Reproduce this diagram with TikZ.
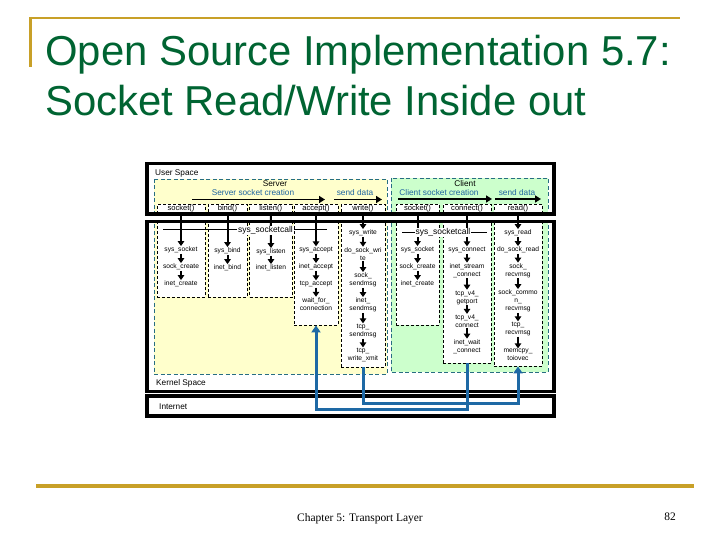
\documentclass[tikz,border=0pt]{standalone}
\usepackage{fontspec}
\setmainfont{Liberation Sans}
\newfontfamily\footfont{Liberation Serif}
\usetikzlibrary{arrows.meta}
\definecolor{titlegreen}{RGB}{0,100,50}
\definecolor{gold}{RGB}{200,160,40}
\definecolor{srvfill}{RGB}{255,255,204}
\definecolor{clifill}{RGB}{204,255,204}
\definecolor{regedge}{RGB}{40,110,130}
\definecolor{flowblue}{RGB}{30,100,160}
\definecolor{connblue}{RGB}{30,105,165}
\begin{document}
\begin{tikzpicture}[x=1bp,y=-1bp,
  title/.style={font=\fontsize{42}{50}\selectfont, text=titlegreen, inner sep=0, anchor=base west},
  fn/.style={font=\fontsize{6.7}{8}\selectfont, inner sep=0.6bp, align=center},
  lab/.style={font=\fontsize{7.6}{9}\selectfont, inner sep=0.3bp, anchor=base},
  hdr/.style={font=\fontsize{8.3}{9}\selectfont, inner sep=0},
  sctext/.style={font=\fontsize{8.5}{9}\selectfont, inner sep=1bp, fill=white},
  colbox/.style={draw=black, dash pattern=on 3bp off 2bp, line width=0.8bp, fill=white, inner sep=0, rectangle},
  region/.style={draw=regedge, dash pattern=on 4bp off 2.5bp, line width=0.8bp},
  thickbox/.style={draw=black, line width=3.3bp},
  arr/.style={-{Triangle[width=6.5bp,length=5bp]}, line width=2bp},
  flow/.style={-{Triangle[width=7bp,length=6bp]}, line width=1.8bp},
  bconn/.style={draw=connblue, line width=3bp, -{Triangle[width=9bp,length=7bp]}},
  goldline/.style={draw=gold}
]
\useasboundingbox (0,0) rectangle (720,540);

% slide frame
\draw[goldline, line width=2.7bp] (29,18) -- (680,18);
\draw[goldline, line width=2.7bp] (30.5,17) -- (30.5,67);
\node[title] (t1) at (45,66) {Open Source Implementation 5.7:};
\node[title] (t2) at (45,116) {Socket Read/Write Inside out};
\draw[goldline, line width=3.3bp] (36,486) -- (694,486);
\node[font=\footfont\fontsize{11.5}{13}\selectfont, anchor=base, inner sep=0] (foot) at (360,521) {Chapter 5: Transport Layer};
\node[font=\footfont\fontsize{11.5}{13}\selectfont, anchor=base, inner sep=0] (pg) at (670,520) {82};

% regions
\path[region, fill=srvfill] (154,179) rectangle (387,374);
\path[region, fill=clifill] (391,178) rectangle (548,372);

% column boxes
\node[colbox, minimum width=48bp, minimum height=92.5bp]  (c1) at (181,250.75) {};
\node[colbox, minimum width=39bp, minimum height=92.5bp]  (c2) at (227.5,250.75) {};
\node[colbox, minimum width=42.5bp, minimum height=92.5bp] (c3) at (270.75,250.75) {};
\node[colbox, minimum width=44bp, minimum height=120.5bp] (c4) at (316,264.75) {};
\node[colbox, minimum width=44bp, minimum height=162.5bp] (c5) at (363,285.75) {};
\node[colbox, minimum width=43bp, minimum height=120.5bp] (c6) at (417.5,264.75) {};
\node[colbox, minimum width=48bp, minimum height=158.5bp] (c7) at (467,283.75) {};
\node[colbox, minimum width=48bp, minimum height=161.5bp] (c8) at (518,285.25) {};

% user/kernel/internet boxes
\fill[white] (147,214) rectangle (554,221.7);
\draw[thickbox] (147,163.5) rectangle (554,214);
\draw[thickbox] (147,221.7) rectangle (554,391.5);
\draw[thickbox] (147,396) rectangle (554,416);

\node[hdr, anchor=west] (us) at (155,173) {User Space};
\node[hdr, anchor=west] (ks) at (156,383) {Kernel Space};
\node[hdr, anchor=west] (inet) at (159,407) {Internet};

% headers
\node[hdr] (srvT) at (275,184) {Server};
\node[hdr, text=flowblue] (ssc) at (253,193) {Server socket creation};
\node[hdr, text=flowblue] (ssd) at (355,193) {send data};
\node[hdr] (cliT) at (465,184) {Client};
\node[hdr, text=flowblue] (csc) at (439,193) {Client socket creation};
\node[hdr, text=flowblue] (csd) at (517,193) {send data};
\coordinate (sa1) at (192,199.5); \coordinate (sa2) at (325,199.5);
\coordinate (sb1) at (334,199.5); \coordinate (sb2) at (382,199.5);
\coordinate (ca1) at (398,199); \coordinate (ca2) at (492,199);
\coordinate (cb1) at (495,199); \coordinate (cb2) at (541,199);
\draw[flow] (sa1) -- (sa2);
\draw[flow] (sb1) -- (sb2);
\draw[flow] (ca1) -- (ca2);
\draw[flow] (cb1) -- (cb2);

% call labels
\node[lab] (l1) at (181,210.3) {socket()};
\node[lab] (l2) at (227.5,210.3) {bind()};
\node[lab] (l3) at (270.75,210.3) {listen()};
\node[lab] (l4) at (316,210.3) {accept()};
\node[lab] (l5) at (363,210.3) {write()};
\node[lab] (l6) at (417.5,210.3) {socket()};
\node[lab] (l7) at (467,210.3) {connect()};
\node[lab] (l8) at (518,210.3) {read()};

% server kernel functions
\node[fn] (f11) at (181,250) {sys\_socket};
\node[fn] (f12) at (181,267) {sock\_create};
\node[fn] (f13) at (181,284) {inet\_create};
\node[fn] (f21) at (227.5,251) {sys\_bind};
\node[fn] (f22) at (227.5,268) {inet\_bind};
\node[fn] (f31) at (271,252) {sys\_listen};
\node[fn] (f32) at (271,268) {inet\_listen};
\node[fn] (f41) at (316,250) {sys\_accept};
\node[fn] (f42) at (316,267) {inet\_accept};
\node[fn] (f43) at (316,284) {tcp\_accept};
\node[fn] (f44) at (316,304) {wait\_for\_\\connection};
\node[fn] (f51) at (363,233) {sys\_write};
\node[fn] (f52) at (363,254) {do\_sock\_wri\\te};
\node[fn] (f53) at (363,280) {sock\_\\sendmsg};
\node[fn] (f54) at (363,305) {inet\_\\sendmsg};
\node[fn] (f55) at (363,331) {tcp\_\\sendmsg};
\node[fn] (f56) at (363,355) {tcp\_\\write\_xmit};
% client kernel functions
\node[fn] (g11) at (417.5,250) {sys\_socket};
\node[fn] (g12) at (417.5,267) {sock\_create};
\node[fn] (g13) at (417.5,284) {inet\_create};
\node[fn] (g21) at (467,250) {sys\_connect};
\node[fn] (g22) at (467,270.5) {inet\_stream\\\_connect};
\node[fn] (g23) at (467,297.5) {tcp\_v4\_\\getport};
\node[fn] (g24) at (467,321) {tcp\_v4\_\\connect};
\node[fn] (g25) at (467,346.5) {inet\_wait\\\_connect};
\node[fn] (g31) at (518,233) {sys\_read};
\node[fn] (g32) at (518,250) {do\_sock\_read};
\node[fn] (g33) at (518,270.5) {sock\_\\recvmsg};
\node[fn] (g34) at (518,301) {sock\_commo\\n\_\\recvmsg};
\node[fn] (g35) at (518,329) {tcp\_\\recvmsg};
\node[fn] (g36) at (518,355) {memcpy\_\\toiovec};

% arrows
\draw[arr] (l1) -- (f11); \draw[arr] (f11) -- (f12); \draw[arr] (f12) -- (f13);
\draw[arr] (l2) -- (f21); \draw[arr] (f21) -- (f22);
\draw[arr] (l3) -- (f31); \draw[arr] (f31) -- (f32);
\draw[arr] (l4) -- (f41); \draw[arr] (f41) -- (f42); \draw[arr] (f42) -- (f43); \draw[arr] (f43) -- (f44);
\draw[arr] (l5) -- (f51); \draw[arr] (f51) -- (f52); \draw[arr] (f52) -- (f53); \draw[arr] (f53) -- (f54); \draw[arr] (f54) -- (f55); \draw[arr] (f55) -- (f56);
\draw[arr] (l6) -- (g11); \draw[arr] (g11) -- (g12); \draw[arr] (g12) -- (g13);
\draw[arr] (l7) -- (g21); \draw[arr] (g21) -- (g22); \draw[arr] (g22) -- (g23); \draw[arr] (g23) -- (g24); \draw[arr] (g24) -- (g25);
\draw[arr] (l8) -- (g31); \draw[arr] (g31) -- (g32); \draw[arr] (g32) -- (g33); \draw[arr] (g33) -- (g34); \draw[arr] (g34) -- (g35); \draw[arr] (g35) -- (g36);

% sys_socketcall
\coordinate (scs1) at (163,230); \coordinate (scs2) at (327,230);
\draw[line width=1bp] (scs1) -- (scs2);
\node[sctext] (sc1) at (265.5,230.5) {sys\_socketcall};
\coordinate (scc1) at (402,232.5); \coordinate (scc2) at (487,232.5);
\draw[line width=1bp] (scc1) -- (scc2);
\node[sctext] (sc2) at (443,232.5) {sys\_socketcall};

% network connectors
\coordinate (yb1) at (0,409);
\coordinate (yb2) at (0,403);
\draw[bconn] (c7.south) -- (c7.south |- yb1) -| (c4.south);
\draw[bconn] (c5.south) -- (c5.south |- yb2) -| (c8.south);
\end{tikzpicture}
\end{document}
